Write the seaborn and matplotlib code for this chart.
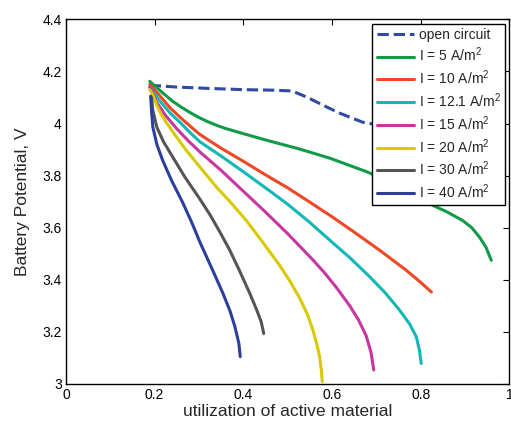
import numpy as np
import pandas as pd
import matplotlib
matplotlib.use("Agg")
import matplotlib.pyplot as plt
import seaborn as sns

sns.set_theme(style="white")
plt.rcParams["font.family"] = ["Liberation Sans", "DejaVu Sans"]
plt.rcParams["mathtext.fontset"] = "custom"
plt.rcParams["mathtext.rm"] = "Liberation Sans"
plt.rcParams["mathtext.default"] = "regular"

# Discharge curves: utilization of active material vs. battery potential (V)
oc_x = [0.189, 0.25, 0.32, 0.40, 0.47, 0.51, 0.545, 0.58, 0.617, 0.669, 0.72, 0.80]
oc_y = [4.147, 4.140, 4.135, 4.130, 4.128, 4.125, 4.10, 4.07, 4.04, 4.005, 3.99, 3.97]

i5_x = [0.189, 0.20, 0.22, 0.241, 0.26, 0.28, 0.30, 0.32, 0.34, 0.36, 0.392, 0.45,
        0.527, 0.595, 0.678, 0.75, 0.80, 0.827, 0.86, 0.894, 0.915, 0.932, 0.947, 0.959]
i5_y = [4.162, 4.145, 4.115, 4.085, 4.063, 4.042, 4.023, 4.007, 3.993, 3.981, 3.965, 3.937,
        3.902, 3.867, 3.815, 3.762, 3.712, 3.686, 3.66, 3.628, 3.60, 3.565, 3.525, 3.475]

i10_x = [0.189, 0.21, 0.235, 0.26, 0.28, 0.302, 0.35, 0.40, 0.45, 0.50, 0.55, 0.60,
         0.65, 0.707, 0.767, 0.80, 0.824]
i10_y = [4.15, 4.11, 4.06, 4.02, 3.99, 3.958, 3.905, 3.855, 3.803, 3.753, 3.698, 3.642,
         3.583, 3.514, 3.437, 3.39, 3.353]

i121_x = [0.189, 0.21, 0.235, 0.26, 0.28, 0.302, 0.35, 0.40, 0.45, 0.50, 0.55, 0.595,
          0.64, 0.68, 0.72, 0.752, 0.775, 0.79, 0.797, 0.801]
i121_y = [4.14, 4.09, 4.04, 4.00, 3.965, 3.93, 3.875, 3.815, 3.753, 3.69, 3.62, 3.552,
          3.485, 3.42, 3.35, 3.284, 3.23, 3.181, 3.13, 3.079]

i15_x = [0.189, 0.205, 0.225, 0.25, 0.275, 0.302, 0.35, 0.40, 0.45, 0.50, 0.556, 0.583,
         0.61, 0.64, 0.66, 0.677, 0.688, 0.694]
i15_y = [4.14, 4.08, 4.03, 3.98, 3.935, 3.891, 3.82, 3.74, 3.66, 3.577, 3.478, 3.427,
         3.37, 3.30, 3.245, 3.185, 3.12, 3.054]

i20_x = [0.189, 0.196, 0.205, 0.215, 0.228, 0.241, 0.27, 0.302, 0.34, 0.37, 0.406, 0.44,
         0.482, 0.505, 0.527, 0.545, 0.557, 0.566, 0.572, 0.576, 0.578]
i20_y = [4.13, 4.11, 4.07, 4.035, 4.00, 3.968, 3.90, 3.833, 3.755, 3.70, 3.629, 3.553,
         3.455, 3.395, 3.33, 3.265, 3.207, 3.15, 3.105, 3.05, 3.009]

i30_x = [0.193, 0.196, 0.205, 0.22, 0.241, 0.268, 0.302, 0.324, 0.345, 0.369, 0.39, 0.414,
         0.43, 0.44, 0.446]
i30_y = [4.10, 4.05, 3.986, 3.93, 3.871, 3.795, 3.71, 3.652, 3.59, 3.515, 3.44, 3.35,
         3.285, 3.24, 3.194]

i40_x = [0.191, 0.193, 0.196, 0.205, 0.218, 0.238, 0.264, 0.285, 0.302, 0.33, 0.354, 0.37,
         0.381, 0.39, 0.393]
i40_y = [4.105, 4.05, 3.986, 3.92, 3.859, 3.782, 3.694, 3.615, 3.545, 3.44, 3.348, 3.28,
         3.22, 3.155, 3.105]

labels = ["open circuit", "I = 5 A/m$^2$", "I = 10 A/m$^2$", "I = 12.1 A/m$^2$",
          "I = 15 A/m$^2$", "I = 20 A/m$^2$", "I = 30 A/m$^2$", "I = 40 A/m$^2$"]
colors = ["#2F4AA5", "#109B47", "#EE4924", "#13B7B5", "#C936A0", "#D8C900",
          "#555555", "#2D3E9C"]
series = [(oc_x, oc_y), (i5_x, i5_y), (i10_x, i10_y), (i121_x, i121_y),
          (i15_x, i15_y), (i20_x, i20_y), (i30_x, i30_y), (i40_x, i40_y)]

fig = plt.figure(figsize=(5.11, 4.26), dpi=100)
ax = fig.add_axes([0.129, 0.0986, 0.868, 0.856])

for (xs, ys), lab, col in zip(series, labels, colors):
    df = pd.DataFrame({"u": xs, "v": ys})
    ls = "--" if lab == "open circuit" else "-"
    sns.lineplot(data=df, x="u", y="v", ax=ax, color=col, label=lab,
                 linewidth=2.2, linestyle=ls, sort=False, estimator=None)

ax.set_xlim(0, 1)
ax.set_ylim(3, 4.4)
ax.set_xticks([0, 0.2, 0.4, 0.6, 0.8, 1])
ax.set_xticklabels(["0", "0.2", "0.4", "0.6", "0.8", "1"])
ax.set_yticks([3, 3.2, 3.4, 3.6, 3.8, 4, 4.2, 4.4])
ax.set_yticklabels(["3", "3.2", "3.4", "3.6", "3.8", "4", "4.2", "4.4"])
ax.tick_params(direction="in", length=4, width=0.8, top=True, right=True,
               labelsize=10, colors="black", pad=3)
for sp in ax.spines.values():
    sp.set_color("black")
    sp.set_linewidth(1.0)

ax.set_xlabel("utilization of active material", fontsize=12.5, labelpad=1.5)
ax.set_ylabel("Battery Potential, V", fontsize=12.5, labelpad=9)

leg = ax.legend(loc="upper right", fontsize=10, frameon=True, fancybox=False,
                edgecolor="black", framealpha=1, borderaxespad=0.3,
                handlelength=2.7, labelspacing=0.3, borderpad=0.3,
                handletextpad=0.35)
leg.get_frame().set_linewidth(1.0)

fig.savefig("out.png", dpi=100)
